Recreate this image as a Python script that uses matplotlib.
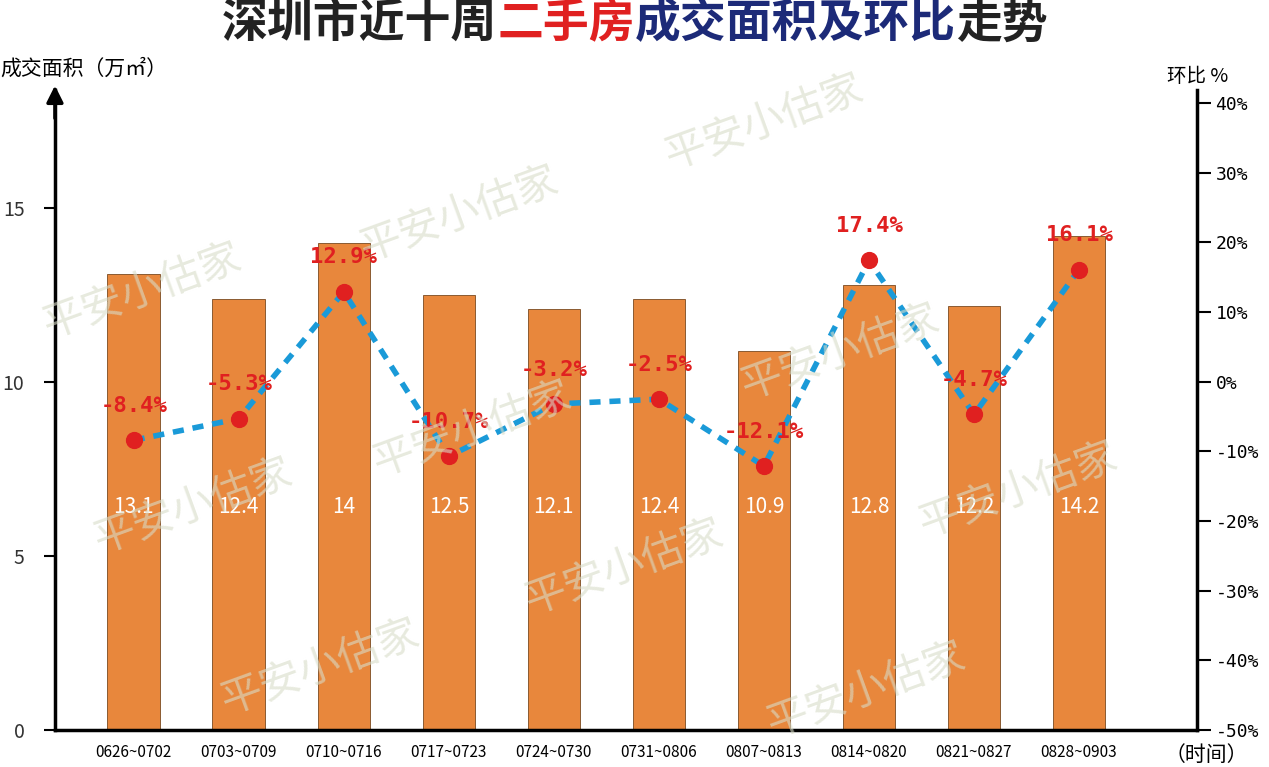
import matplotlib.pyplot as plt

plt.rcParams['font.family'] = 'Noto Sans CJK SC'

weeks = ['0626~0702', '0703~0709', '0710~0716', '0717~0723', '0724~0730',
         '0731~0806', '0807~0813', '0814~0820', '0821~0827', '0828~0903']
area = [13.1, 12.4, 14, 12.5, 12.1, 12.4, 10.9, 12.8, 12.2, 14.2]
area_labels = ['13.1', '12.4', '14', '12.5', '12.1', '12.4', '10.9', '12.8', '12.2', '14.2']
ratio = [-8.4, -5.3, 12.9, -10.7, -3.2, -2.5, -12.1, 17.4, -4.7, 16.1]

fig = plt.figure(figsize=(12.69, 7.67), dpi=100)
ax = fig.add_axes([0.0433, 0.048, 0.8997, 0.835])
x = list(range(len(weeks)))
ax.bar(x, area, width=0.5, color='#e8873c', edgecolor='#7a4a20', linewidth=0.6, zorder=2)
for i, t in enumerate(area_labels):
    ax.text(i, 6.4, t, color='white', fontsize=15, ha='center', va='center', zorder=3)
ax.set_xlim(-0.75, 10.12)
ax.set_ylim(0, 18.4)
ax.set_yticks([0, 5, 10, 15])
ax.set_yticklabels(['0', '5', '10', '15'], fontsize=14, color='#333333')
ax.tick_params(axis='y', direction='out', length=8, width=1.5, pad=14)
ax.set_xticks(x)
ax.set_xticklabels(weeks, fontsize=11)
ax.tick_params(axis='x', length=0, pad=10)
for s in ['top', 'right']:
    ax.spines[s].set_visible(False)
ax.spines['left'].set_linewidth(2.5)
ax.spines['bottom'].set_linewidth(2.5)
ax.annotate('', xy=(-0.75, 18.6), xytext=(-0.75, 17.5), annotation_clip=False,
            arrowprops=dict(arrowstyle='-|>', color='black', lw=2.5, mutation_scale=25))

ax2 = ax.twinx()
ax2.plot(x, ratio, linestyle=(0, (2, 1.6)), color='#1a9ad8', linewidth=4, zorder=4)
ax2.scatter(x, ratio, s=130, color='#e02020', zorder=5)
for i, r in enumerate(ratio):
    ax2.text(i, r + 3.5, f'{r}%', color='#e02020', fontsize=16, fontweight='bold',
             ha='center', va='bottom', family='DejaVu Sans Mono', zorder=6)
ax2.set_ylim(-50, 41.9)
ax2.set_yticks(range(-50, 41, 10))
ax2.set_yticklabels([f'{v}%' for v in range(-50, 41, 10)], fontsize=13, family='DejaVu Sans Mono')
ax2.tick_params(axis='y', direction='out', length=10, width=1.5)
for s in ['top', 'left', 'bottom']:
    ax2.spines[s].set_visible(False)
ax2.spines['right'].set_linewidth(2.5)

fig.text(0.0, 0.91, '成交面积（万㎡）', fontsize=15, ha='left', va='center')
fig.text(0.92, 0.90, '环比 %', fontsize=14, ha='left', va='center')
fig.text(0.918, 0.015, '（时间）', fontsize=15, ha='left', va='center')

# title in coloured pieces, chained by rendered width
parts = [('深圳市近十周', '#222222'), ('二手房', '#e02020'), ('成交面积及环比', '#1c2a78'), ('走势', '#222222')]
renderer = fig.canvas.get_renderer()
xp = 222
for txt, col in parts:
    t = fig.text(xp / 1269, 0.968, txt, fontsize=33, fontweight='bold', color=col, ha='left', va='center')
    xp += t.get_window_extent(renderer).width

for wx, wy in [(0.03, 0.56), (0.28, 0.66), (0.52, 0.78), (0.07, 0.28), (0.29, 0.38),
               (0.41, 0.20), (0.17, 0.07), (0.58, 0.48), (0.60, 0.04), (0.72, 0.30)]:
    fig.text(wx, wy, '平安小估家', fontsize=30, color='#d8dcc8', alpha=0.6, rotation=20, zorder=10)

fig.savefig('out.png', dpi=100)
